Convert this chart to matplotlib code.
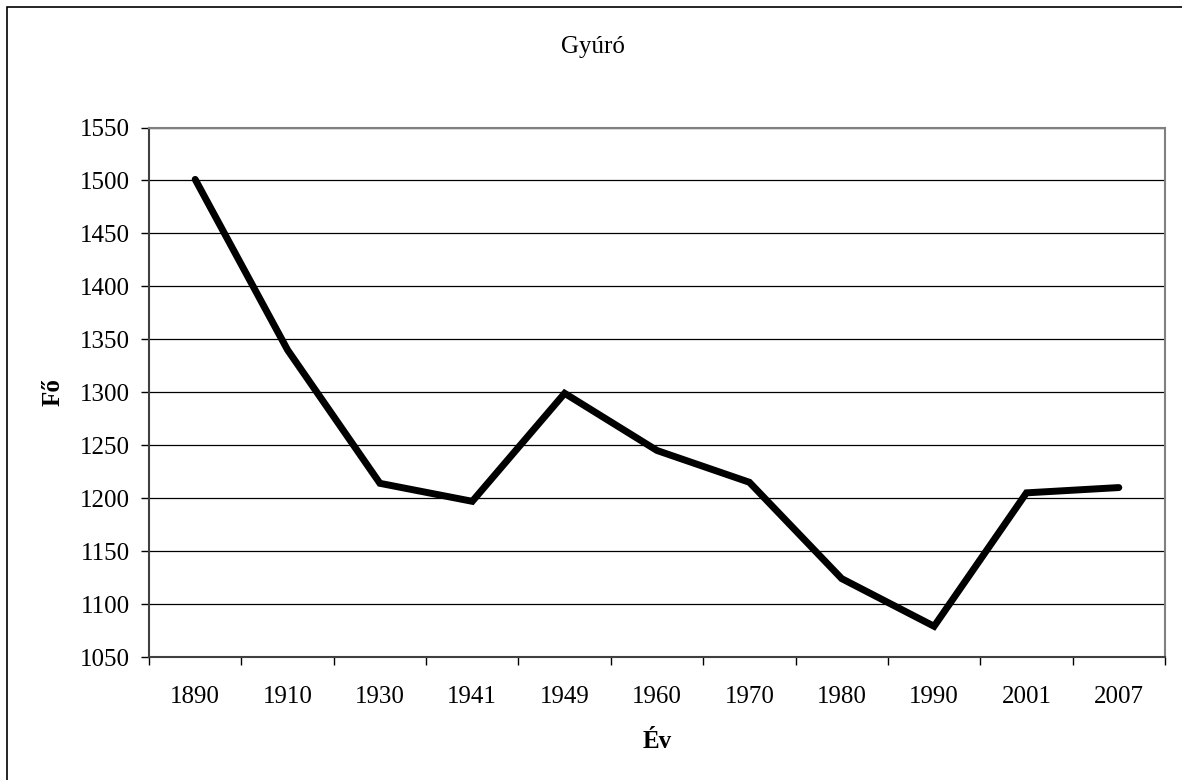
import matplotlib.pyplot as plt
import numpy as np
from matplotlib.patches import Rectangle

# Adatok
years = ['1890', '1910', '1930', '1941', '1949', '1960', '1970', '1980', '1990', '2001', '2007']
population = [1501, 1340, 1214, 1197, 1299, 1245, 1215, 1124, 1079, 1205, 1210]
y_ticks = [1050, 1100, 1150, 1200, 1250, 1300, 1350, 1400, 1450, 1500, 1550]

plt.rcParams['font.family'] = ['Liberation Serif', 'DejaVu Serif']

fig = plt.figure(figsize=(11.82, 7.8), dpi=100)
ax = fig.add_axes([149 / 1182, 1 - 657 / 780, (1165 - 149) / 1182, (657 - 127.5) / 780])

# outer frame of the chart (only left/top visible in reference)
fig.patches.append(Rectangle((7 / 1182, -0.01), 1.02, 1 - 7 / 780 + 0.01, transform=fig.transFigure,
                             fill=False, edgecolor='black', linewidth=1.2))

x = np.arange(len(years))
ax.plot(x, population, color='black', linewidth=5, solid_capstyle='round', solid_joinstyle='miter', zorder=3)

ax.set_xlim(-0.5, len(years) - 0.5)
ax.set_ylim(1050, 1550)
ax.set_yticks(y_ticks)
ax.set_yticklabels([str(v) for v in y_ticks], fontsize=18)
ax.yaxis.grid(True, color='black', linewidth=0.9)
ax.set_axisbelow(True)

ax.set_xticks(x)
ax.set_xticklabels(years, fontsize=18)
ax.set_xticks(np.arange(-0.5, len(years), 1), minor=True)
ax.tick_params(axis='x', which='major', length=0, pad=21)
ax.tick_params(axis='x', which='minor', length=6, width=1, direction='out', color='black')
ax.tick_params(axis='y', length=6, width=1, direction='out', pad=7.5)

for side in ['top', 'right']:
    ax.spines[side].set_color('#808080')
    ax.spines[side].set_linewidth(1.5)
for side in ['left', 'bottom']:
    ax.spines[side].set_color('#404040')
    ax.spines[side].set_linewidth(1.5)

ax.set_xlabel('Év', fontsize=18, fontweight='bold', labelpad=16)
ax.set_ylabel('Fő', fontsize=18, fontweight='bold', labelpad=11)
fig.text(593 / 1182, 1 - 47 / 780, 'Gyúró', fontsize=18, ha='center', va='center')

fig.savefig('out.png', dpi=100)
